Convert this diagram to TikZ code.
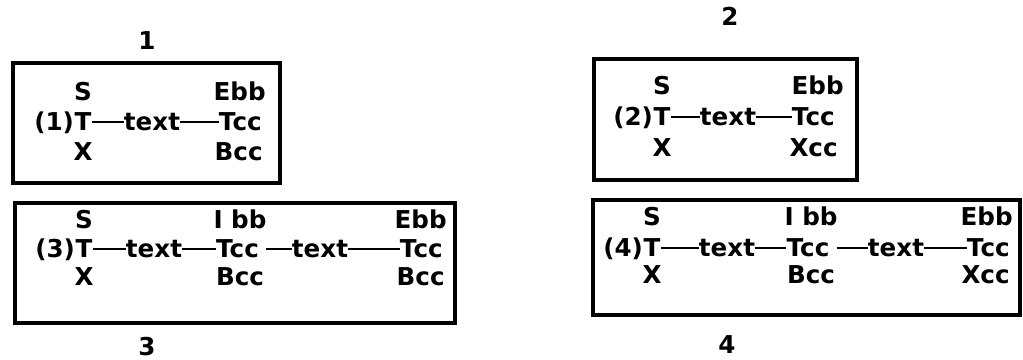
\documentclass[tikz,border=0pt]{standalone}
\usepackage{fontspec}
\setmainfont{DejaVu Sans}
\usetikzlibrary{positioning}
\tikzset{
  lbl/.style={font=\bfseries\fontsize{14}{17}\selectfont,inner sep=0pt,text height=10.2pt,text depth=0pt},
  num/.style={font=\bfseries\fontsize{14}{17}\selectfont,inner sep=0pt},
  frame/.style={draw=black,line width=1.8pt},
  bond/.style={draw=black,line width=1.2pt}
}
\begin{document}
\begin{tikzpicture}[x=1cm,y=1cm]
\path[use as bounding box] (0,0) rectangle (20.46,7.2);

% formula 1
\node[num] (n1) at (2.94,6.38) {1};
\draw[frame] (0.26,5.94) rectangle (5.60,3.54);
\node[lbl] (s1) at (1.66,5.36) {S};
\node[lbl] (t1) at (1.66,4.76) {T};
\node[lbl] (x1) at (1.66,4.16) {X};
\node[lbl,left=0pt of t1] (p1) {(1)};
\node[lbl] (txt1) at (3.04,4.76) {text};
\node[lbl,anchor=east] (ebb1) at (5.32,5.36) {Ebb};
\node[lbl,anchor=east] (tcc1) at (5.24,4.76) {Tcc};
\node[lbl,anchor=east] (bcc1) at (5.26,4.16) {Bcc};
\draw[bond] (t1)--(txt1); \draw[bond] (txt1)--(tcc1);

% formula 2
\node[num] (n2) at (14.60,6.88) {2};
\draw[frame] (11.88,6.02) rectangle (17.14,3.60);
\node[lbl] (s2) at (13.24,5.48) {S};
\node[lbl] (t2) at (13.24,4.86) {T};
\node[lbl] (x2) at (13.24,4.24) {X};
\node[lbl,left=0pt of t2] (p2) {(2)};
\node[lbl] (txt2) at (14.56,4.86) {text};
\node[lbl,anchor=east] (ebb2) at (16.88,5.48) {Ebb};
\node[lbl,anchor=east] (tcc2) at (16.70,4.86) {Tcc};
\node[lbl,anchor=east] (xcc2) at (16.76,4.24) {Xcc};
\draw[bond] (t2)--(txt2); \draw[bond] (txt2)--(tcc2);

% formula 3
\node[num] (n3) at (2.94,0.26) {3};
\draw[frame] (0.30,3.14) rectangle (9.10,0.74);
\node[lbl] (s3) at (1.68,2.80) {S};
\node[lbl] (t3) at (1.68,2.22) {T};
\node[lbl] (x3) at (1.68,1.66) {X};
\node[lbl,left=0pt of t3] (p3) {(3)};
\node[lbl] (txt3a) at (3.08,2.22) {text};
\node[lbl] (ibb3) at (4.80,2.80) {I bb};
\node[lbl] (tcc3m) at (4.75,2.22) {Tcc};
\node[lbl] (bcc3m) at (4.80,1.66) {Bcc};
\node[lbl] (txt3b) at (6.40,2.22) {text};
\node[lbl,anchor=east] (ebb3) at (8.94,2.80) {Ebb};
\node[lbl,anchor=east] (tcc3) at (8.86,2.22) {Tcc};
\node[lbl,anchor=east] (bcc3) at (8.90,1.66) {Bcc};
\draw[bond] (t3)--(txt3a); \draw[bond] (txt3a)--(tcc3m);
\draw[bond,shorten <=4pt] (tcc3m)--(txt3b); \draw[bond] (txt3b)--(tcc3);

% formula 4
\node[num] (n4) at (14.54,0.30) {4};
\draw[frame] (11.86,3.20) rectangle (20.40,0.90);
\node[lbl] (s4) at (13.04,2.86) {S};
\node[lbl] (t4) at (13.04,2.24) {T};
\node[lbl] (x4) at (13.04,1.70) {X};
\node[lbl,left=0pt of t4] (p4) {(4)};
\node[lbl] (txt4a) at (14.54,2.24) {text};
\node[lbl] (ibb4) at (16.22,2.86) {I bb};
\node[lbl] (tcc4m) at (16.16,2.24) {Tcc};
\node[lbl] (bcc4m) at (16.22,1.70) {Bcc};
\node[lbl] (txt4b) at (17.92,2.24) {text};
\node[lbl,anchor=east] (ebb4) at (20.26,2.86) {Ebb};
\node[lbl,anchor=east] (tcc4) at (20.20,2.24) {Tcc};
\node[lbl,anchor=east] (xcc4) at (20.20,1.70) {Xcc};
\draw[bond] (t4)--(txt4a); \draw[bond] (txt4a)--(tcc4m);
\draw[bond,shorten <=4pt] (tcc4m)--(txt4b); \draw[bond] (txt4b)--(tcc4);
\end{tikzpicture}
\end{document}
